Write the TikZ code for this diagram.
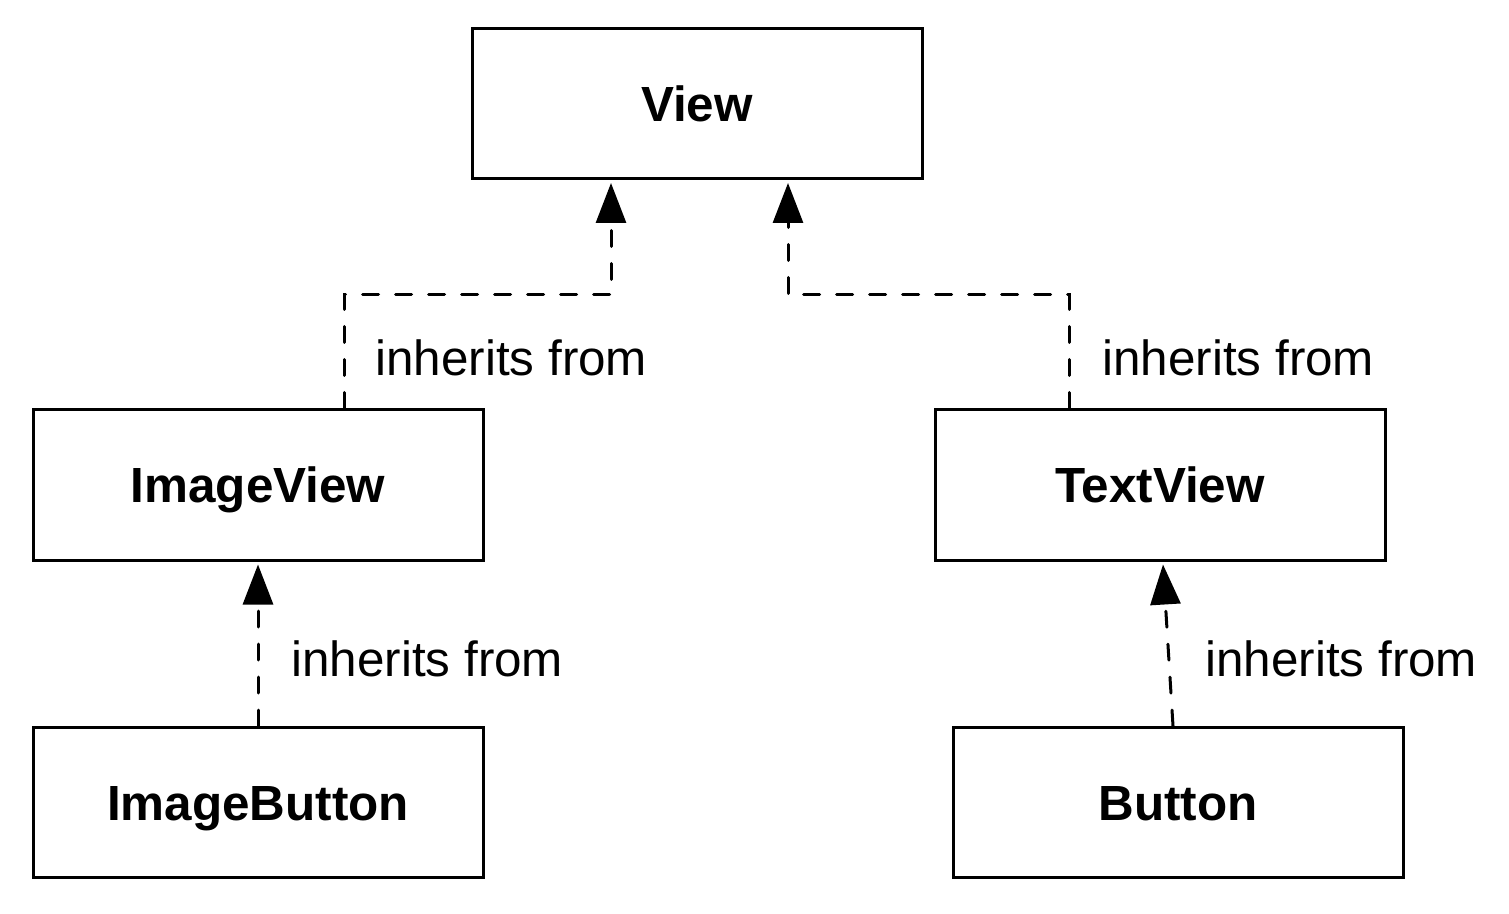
\documentclass[tikz,border=0pt]{standalone}
\usepackage{fontspec}
\setmainfont{Liberation Sans}
\usetikzlibrary{arrows.meta,calc}
\begin{document}
\begin{tikzpicture}[x=0.5pt,y=-0.5pt,
  cls/.style={draw, line width=1.5pt, minimum width=225pt, minimum height=75pt, inner sep=0pt, text height=17.8pt, text depth=0pt, font=\fontsize{24.7}{28}\selectfont\bfseries},
  inh/.style={line width=1.5pt, dash pattern=on 8pt off 8.5pt, line cap=round, -{Triangle[length=20pt,width=15pt]}},
  lbl/.style={anchor=base west, inner sep=0pt, font=\fontsize{24.7}{28}\selectfont}]
\useasboundingbox (0,0) rectangle (1509,914);
\node[cls] (view) at (697,103.5) {View};
\node[cls] (imageview) at (258,485) {ImageView};
\node[cls] (textview) at (1160,485) {TextView};
\node[cls] (imagebutton) at (258,802.5) {ImageButton};
\node[cls] (button) at (1178,802.5) {Button};
\draw[inh] ([xshift=43pt]imageview.north) |- ($([xshift=-43pt]view.south)+(0,115)$) -- ([xshift=-43pt,yshift=-1.5pt]view.south);
\draw[inh] ([xshift=-45.5pt]textview.north) |- ($([xshift=45.5pt]view.south)+(0,115)$) -- ([xshift=45.5pt,yshift=-1.5pt]view.south);
\draw[inh] (imagebutton.north) -- ([yshift=-1.5pt]imageview.south);
\draw[inh] ([xshift=-2.5pt]button.north) -- ([xshift=1.5pt,yshift=-1.5pt]textview.south);
\node[lbl] (l1) at (375,376) {inherits from};
\node[lbl] (l2) at (1102,376) {inherits from};
\node[lbl] (l3) at (291,676) {inherits from};
\node[lbl] (l4) at (1205,676) {inherits from};
\end{tikzpicture}
\end{document}
